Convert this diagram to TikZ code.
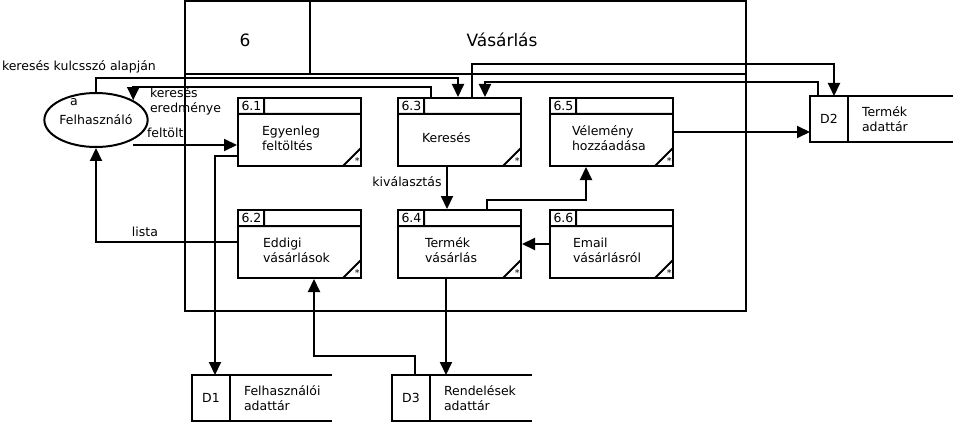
\documentclass[tikz,border=0pt]{standalone}
\usepackage{fontspec}
\setmainfont{DejaVu Sans}
\usetikzlibrary{positioning,shapes.geometric,arrows.meta}

\begin{document}
\begin{tikzpicture}[
        %Environment config
        x=1pt, y=-1pt,
        font=\fontsize{12.5}{15}\selectfont,
        line width=2pt,
        %Environment styles
        ProcCfg/.style={
            draw, anchor=north west,
            minimum width=123pt, minimum height=68pt,
            label={[IdCfg]north west:#1},
            label={[StarCfg]south east:*},
            path picture={
                \draw ([yshift=-16pt]path picture bounding box.north west)
                        -- ([yshift=-16pt]path picture bounding box.north east)
                    ([xshift=26pt]path picture bounding box.north west)
                        -- ([xshift=26pt,yshift=-16pt]path picture bounding box.north west)
                    ([xshift=-18pt]path picture bounding box.south east)
                        -- ([yshift=18pt]path picture bounding box.south east);
            }
        },
        IdCfg/.style={anchor=north west, inner sep=3.5pt},
        StarCfg/.style={anchor=south east, inner sep=1.5pt, font=\fontsize{9.5}{9.5}\selectfont},
        TxtCfg/.style={anchor=west, align=left, inner sep=0pt},
        StoreCfg/.style={draw, anchor=north west, outer sep=0pt,
            minimum width=38pt, minimum height=46pt, inner sep=0pt},
        TitleCfg/.style={font=\fontsize{17}{20}\selectfont},
        FlowCfg/.style={-{Triangle[length=13pt,width=12pt]}}
    ]
    \useasboundingbox (0,0) rectangle (953,425);

    % process 6 frame
    \path
        (185,1) node[draw, anchor=north west, outer sep=0pt,
            minimum width=561pt, minimum height=310pt](B6){}
        (245,40) node[TitleCfg](N6){6}
        (502,40) node[TitleCfg](NV){Vásárlás};
    \draw
        ([yshift=-73pt]B6.north west) -- ([yshift=-73pt]B6.north east)
        ([xshift=125pt]B6.north west) -- ([xshift=125pt,yshift=-73pt]B6.north west);

    \path
        (237,97) node[ProcCfg=6.1](P61){}
            ++ (160,0) node[ProcCfg=6.3](P63){}
            ++ (152,0) node[ProcCfg=6.5](P65){}
        (237,209) node[ProcCfg=6.2](P62){}
            ++ (160,0) node[ProcCfg=6.4](P64){}
            ++ (152,0) node[ProcCfg=6.6](P66){}
        (96,120) node[ellipse, draw, minimum width=83pt, minimum height=54pt,
            inner sep=0pt](U){Felhasználó}
        (74,102) node(Ua){a}
        (192,375) node[StoreCfg](D1){D1}
        (392,375) node[StoreCfg](D3){D3}
        (810,96) node[StoreCfg](D2){D2};

    \path
        ([xshift=24pt,yshift=-6pt]P61.west) node[TxtCfg](T61){Egyenleg\\feltöltés}
        ([xshift=24pt,yshift=-6pt]P63.west) node[TxtCfg](T63){Keresés}
        ([xshift=22pt,yshift=-6pt]P65.west) node[TxtCfg](T65){Vélemény\\hozzáadása}
        ([xshift=25pt,yshift=-6pt]P62.west) node[TxtCfg](T62){Eddigi\\vásárlások}
        ([xshift=27pt,yshift=-6pt]P64.west) node[TxtCfg](T64){Termék\\vásárlás}
        ([xshift=23pt,yshift=-6pt]P66.west) node[TxtCfg](T66){Email\\vásárlásról};
    \node[TxtCfg, right=13pt of D1](TD1){Felhasználói\\adattár};
    \node[TxtCfg, right=13pt of D3](TD3){Rendelések\\adattár};
    \node[TxtCfg, right=13pt of D2](TD2){Termék\\adattár};

    % open stores
    \foreach \s/\w in {D1/102, D3/102, D2/110}
        \draw (\s.north east) -- ++(\w,0) (\s.south east) -- ++(\w,0);

    % flows
    \draw[FlowCfg] (U.north) -- ++(0,-14) -| ([xshift=61pt]P63.north west);
    \draw[FlowCfg] ([xshift=34pt]P63.north west) -- ++(0,-10) -| (U.north east);
    \draw[FlowCfg] ([xshift=75pt]P63.north west) -- ++(0,-33) -| ([xshift=24pt]D2.north west);
    \draw[FlowCfg] ([xshift=8pt]D2.north west) -- ++(0,-14) -| ([xshift=88pt]P63.north west);
    \coordinate (F1) at ([yshift=-48pt]P61.north west);
    \draw[FlowCfg] (U.south east |- F1) -- (F1);
    \draw[FlowCfg] ([yshift=-59pt]P61.north west) -| ([xshift=23pt]D1.north west);
    \draw[FlowCfg] ([yshift=-33pt]P62.north west) -| (U.south);
    \draw[FlowCfg] ([xshift=50pt]P63.south west) -- ([xshift=50pt]P64.north west);
    \draw[FlowCfg] ([xshift=90pt]P64.north west) -- ++(0,-9) -| ([xshift=37pt]P65.south west);
    \draw[FlowCfg] (P66.west) -- (P64.east);
    \draw[FlowCfg] ([xshift=49pt]P64.south west) -- ([xshift=49pt]P64.south west |- D3.north);
    \draw[FlowCfg] ([xshift=23pt]D3.north west) -- ++(0,-19) -| ([xshift=77pt]P62.south west);
    \draw[FlowCfg] (P65.east) -- (P65.east -| D2.west);

    % flow labels
    \path
        (1,67) node[TxtCfg](L1){keresés kulcsszó alapján}
        (149,101) node[TxtCfg](L2){keresés\\eredménye}
        (146,133) node[TxtCfg](L3){feltölt}
        (145,232) node(L4){lista}
        (407,182) node(L5){kiválasztás};
\end{tikzpicture}
\end{document}
